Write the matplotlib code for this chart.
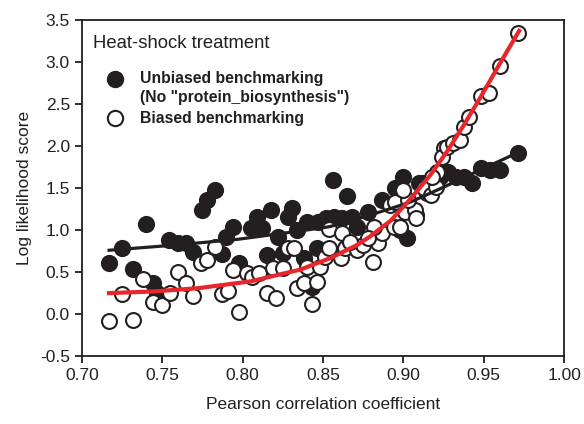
import numpy as np
import matplotlib
matplotlib.use("Agg")
import matplotlib.pyplot as plt

plt.rcParams['font.family'] = ['Liberation Sans', 'DejaVu Sans']

# Unbiased benchmarking (No "protein_biosynthesis") - filled circles
unbiased_x = [0.717, 0.725, 0.740, 0.732, 0.744, 0.747, 0.754, 0.760, 0.765, 0.769,
              0.787, 0.775, 0.778, 0.783, 0.790, 0.794, 0.798, 0.805, 0.809, 0.812,
              0.818, 0.822, 0.815, 0.825, 0.828, 0.831, 0.834, 0.840, 0.838, 0.846,
              0.843, 0.847, 0.851, 0.856, 0.852, 0.857, 0.862, 0.868, 0.871, 0.878,
              0.865, 0.887, 0.895, 0.900, 0.912, 0.915, 0.908, 0.902, 0.898, 0.928,
              0.933, 0.938, 0.943, 0.948, 0.954, 0.960, 0.971, 0.917, 0.910, 0.923]
unbiased_y = [0.61, 0.79, 1.07, 0.54, 0.37, 0.25, 0.88, 0.85, 0.85, 0.74,
              0.71, 1.24, 1.36, 1.48, 0.92, 1.04, 0.61, 1.02, 1.15, 1.02,
              1.24, 0.92, 0.70, 0.73, 1.15, 1.26, 1.00, 1.10, 0.67, 0.79,
              0.32, 1.10, 1.12, 1.60, 1.14, 1.15, 1.14, 1.15, 1.04, 1.21,
              1.40, 1.36, 1.50, 1.63, 1.56, 1.44, 1.18, 0.90, 1.00, 1.69,
              1.63, 1.63, 1.56, 1.74, 1.71, 1.71, 1.92, 1.48, 1.56, 1.63]

# Biased benchmarking - open circles
biased_x = [0.717, 0.732, 0.725, 0.738, 0.744, 0.750, 0.755, 0.760, 0.765, 0.769,
            0.774, 0.778, 0.783, 0.787, 0.791, 0.794, 0.798, 0.803, 0.806, 0.810,
            0.815, 0.819, 0.821, 0.825, 0.828, 0.832, 0.834, 0.838, 0.840, 0.843,
            0.846, 0.848, 0.851, 0.854, 0.854, 0.862, 0.861, 0.864, 0.871, 0.875,
            0.881, 0.884, 0.887, 0.894, 0.892, 0.901, 0.907, 0.908, 0.898, 0.882,
            0.878, 0.867, 0.895, 0.903, 0.900, 0.913, 0.917, 0.920, 0.921, 0.925,
            0.924, 0.927, 0.931, 0.935, 0.938, 0.941, 0.948, 0.953, 0.960, 0.971,
            0.918]
biased_y = [-0.08, -0.07, 0.24, 0.42, 0.14, 0.11, 0.25, 0.50, 0.37, 0.21,
            0.61, 0.64, 0.80, 0.24, 0.27, 0.52, 0.02, 0.49, 0.44, 0.49,
            0.25, 0.55, 0.19, 0.55, 0.79, 0.79, 0.31, 0.37, 0.56, 0.12,
            0.38, 0.56, 0.68, 0.79, 1.01, 0.96, 0.67, 0.79, 0.76, 0.82,
            0.62, 0.85, 0.96, 1.04, 1.30, 1.21, 1.24, 1.14, 1.04, 1.04,
            0.90, 0.86, 1.33, 1.36, 1.48, 1.50, 1.42, 1.51, 1.69, 1.98,
            1.87, 1.99, 2.04, 2.07, 2.23, 2.35, 2.60, 2.63, 2.95, 3.35,
            1.63]

# regression curves
unbiased_fit_x = [0.717, 0.757, 0.797, 0.836, 0.854, 0.878, 0.904, 0.925, 0.945, 0.971]
unbiased_fit_y = [0.76, 0.82, 0.89, 0.99, 1.04, 1.17, 1.33, 1.51, 1.69, 1.92]

biased_fit_x = [0.717, 0.745, 0.773, 0.805, 0.836, 0.855, 0.871, 0.879, 0.892,
                0.904, 0.917, 0.927, 0.937, 0.948, 0.960, 0.972]
biased_fit_y = [0.25, 0.27, 0.31, 0.39, 0.53, 0.67, 0.82, 0.92, 1.11,
                1.36, 1.66, 1.93, 2.23, 2.58, 2.98, 3.37]

fig = plt.figure(figsize=(5.84, 4.24), dpi=100)
ax = fig.add_axes([0.140, 0.160, 0.826, 0.793])

ax.scatter(unbiased_x, unbiased_y, s=125, facecolor='#231f20', edgecolor='#231f20',
           linewidth=1.2, zorder=2)
ax.scatter(biased_x, biased_y, s=115, facecolor='white', edgecolor='#231f20',
           linewidth=1.5, zorder=3)

ax.plot(unbiased_fit_x, unbiased_fit_y, color='#231f20', lw=2.3, zorder=4,
        solid_joinstyle='round')
ax.plot(biased_fit_x, biased_fit_y, color='#e8262b', lw=3.0, zorder=5,
        solid_joinstyle='round')

ax.set_xlim(0.70, 1.00)
ax.set_ylim(-0.5, 3.5)
ax.set_xticks(np.arange(0.70, 1.001, 0.05))
ax.set_xticklabels([f"{v:.2f}" for v in np.arange(0.70, 1.001, 0.05)])
ax.set_yticks(np.arange(-0.5, 3.51, 0.5))
ax.set_yticklabels([f"{v:.1f}" for v in np.arange(-0.5, 3.51, 0.5)])
ax.tick_params(direction='out', length=5, width=1.3, labelsize=12.5, color='#231f20',
               labelcolor='#231f20')
for s in ax.spines.values():
    s.set_linewidth(1.3)
    s.set_color('#231f20')

ax.set_xlabel("Pearson correlation coefficient", fontsize=12.5, color='#231f20', labelpad=10)
ax.set_ylabel("Log likelihood score", fontsize=12.5, color='#231f20', labelpad=6)

# legend drawn by hand
ax.text(0.023, 0.929, "Heat-shock treatment", transform=ax.transAxes, fontsize=13.3,
        color='#231f20', va='center')
ax.plot([0.069], [0.825], 'o', transform=ax.transAxes, ms=11.5, mfc='#231f20',
        mec='#231f20', clip_on=False)
ax.text(0.12, 0.825, "Unbiased benchmarking", transform=ax.transAxes, fontsize=11.3,
        fontweight='bold', color='#231f20', va='center')
ax.text(0.12, 0.768, '(No "protein_biosynthesis")', transform=ax.transAxes, fontsize=11.3,
        fontweight='bold', color='#231f20', va='center')
ax.plot([0.069], [0.708], 'o', transform=ax.transAxes, ms=11, mfc='white',
        mec='#231f20', mew=1.5, clip_on=False)
ax.text(0.12, 0.708, "Biased benchmarking", transform=ax.transAxes, fontsize=11.3,
        fontweight='bold', color='#231f20', va='center')

fig.savefig("out.png", dpi=100)
